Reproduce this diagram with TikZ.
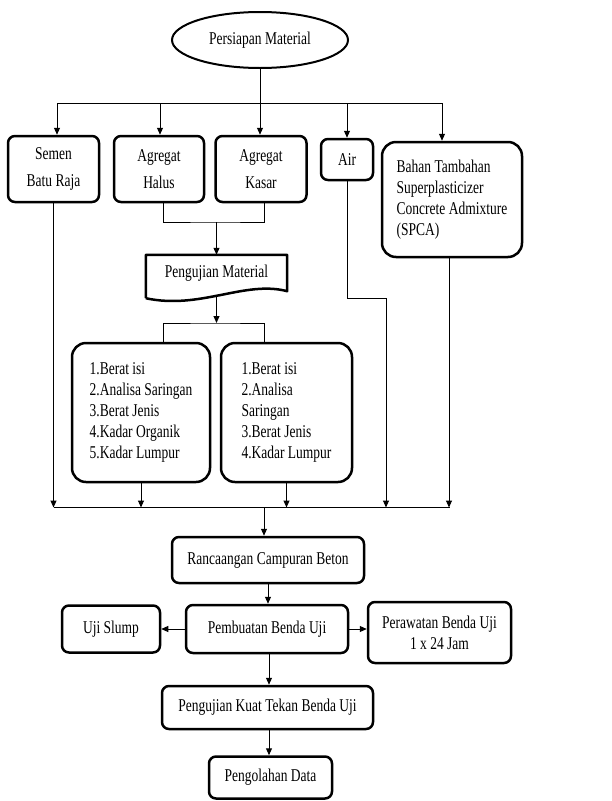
\documentclass[tikz,border=0pt]{standalone}
\usepackage{fontspec}
\setmainfont{Liberation Serif}[FakeStretch=0.75]
\usetikzlibrary{arrows.meta, shapes.geometric, calc}

\begin{document}
\begin{tikzpicture}[x=1pt, y=-1pt, >={Triangle[length=7pt,width=6pt]},
  font=\fontsize{18}{21}\selectfont,
  box/.style={draw, line width=2.5pt, rounded corners=7pt, align=center, inner sep=2pt},
  list/.style={box, rounded corners=14pt, align=left},
  line/.style={line width=1pt}]
  \useasboundingbox (0,0) rectangle (612,801);

  % Persiapan
  \node[ellipse, draw, line width=2pt, minimum width=176pt, minimum height=56pt] (persiapan) at (260,40) {Persiapan Material};

  % Material
  \node[box, minimum width=91pt, minimum height=66pt] (semen) at (53.5,169) {Semen\\[6pt]Batu Raja};
  \node[box, minimum width=90pt, minimum height=66pt] (halus) at (159,169) {Agregat\\[6pt]Halus};
  \node[box, minimum width=91pt, minimum height=66pt] (kasar) at (261,169) {Agregat\\[6pt]Kasar};
  \node[box, minimum width=52pt, minimum height=41pt] (air) at (347,159.5) {Air};
  \node[list, minimum width=140pt, minimum height=115pt] (bahan) at (452,199.5) {Bahan Tambahan\\Superplasticizer\\Concrete Admixture\\(SPCA)};

  % Pengujian material (dokumen)
  \node[minimum width=141pt, minimum height=36pt, inner sep=0pt] (uji) at (216.5,273) {Pengujian Material};
  \draw[line width=2.5pt, line join=round] ([yshift=-7pt]uji.south west) -- (uji.north west) -- (uji.north east) -- (uji.south east)
    .. controls (245,280) and (200,310) .. ([yshift=-7pt]uji.south west);

  \node[list, minimum width=138pt, minimum height=139pt] (tesA) at (141,412.5) {1.Berat isi\\2.Analisa Saringan\\3.Berat Jenis\\4.Kadar Organik\\5.Kadar Lumpur};
  \node[list, minimum width=131pt, minimum height=139pt] (tesB) at (286.5,412.5) {1.Berat isi\\2.Analisa\\Saringan\\3.Berat Jenis\\4.Kadar Lumpur};

  % Beton
  \node[box, minimum width=192pt, minimum height=46pt] (rancangan) at (268,560) {Rancaangan Campuran Beton};
  \node[box, minimum width=162pt, minimum height=48pt] (pembuatan) at (267,629) {Pembuatan Benda Uji};
  \node[box, minimum width=98pt, minimum height=47pt] (slump) at (111,629) {Uji Slump};
  \node[box, minimum width=143pt, minimum height=61pt] (perawatan) at (439.5,632.5) {Perawatan Benda Uji\\1 x 24 Jam};
  \node[box, minimum width=211pt, minimum height=43pt] (kuat) at (267.5,707.5) {Pengujian Kuat Tekan Benda Uji};
  \node[box, minimum width=123pt, minimum height=42pt] (olah) at (270.5,777.5) {Pengolahan Data};

  % Garis atas
  \coordinate (atas) at (260,103);
  \draw[line] (persiapan.south) -- (atas);
  \draw[line, ->] (atas) -- (atas |- kasar.north);
  \foreach \n/\dx in {semen/3.5, halus/1, air/0, bahan/-10}
    \draw[line, ->] (atas) -| ([xshift=\dx pt]\n.north);

  % Agregat ke pengujian
  \coordinate (gabung) at (216.5,222);
  \draw[line] ([xshift=4pt]halus.south) |- (gabung) -| ([xshift=3pt]kasar.south);
  \draw[line, ->] (gabung) -- (uji.north);
  \coordinate (cabang) at (216.5,323);
  \draw[line, ->] ([yshift=-6pt]uji.south) -- (cabang);
  \draw[line] ([xshift=22pt]tesA.north) |- (cabang) -| ([xshift=-22.5pt]tesB.north);

  % Garis bawah
  \coordinate (bawah) at (264,507.5);
  \coordinate (belok) at (386,298);
  \draw[line] (semen.south |- bawah) -- ([xshift=-2pt]bahan.south |- bawah);
  \foreach \n in {semen, tesA, tesB}
    \draw[line, ->] (\n.south) -- (\n.south |- bawah);
  \draw[line, ->] (air.south) |- (belok) -- (belok |- bawah);
  \draw[line, ->] ([xshift=-3pt]bahan.south) -- ([xshift=-3pt]bahan.south |- bawah);
  \draw[line, ->] (bawah) -- (bawah |- rancangan.north);

  % Proses beton
  \draw[line, ->] (rancangan.south) -- (rancangan.south |- pembuatan.north);
  \draw[line, ->] (pembuatan.west) -- (slump.east);
  \draw[line, ->] (pembuatan.east) -- (pembuatan.east -| perawatan.west);
  \draw[line, ->] ([xshift=2pt]pembuatan.south) -- ([xshift=2pt]pembuatan.south |- kuat.north);
  \draw[line, ->] ([xshift=1.5pt]kuat.south) -- ([xshift=1.5pt]kuat.south |- olah.north);
\end{tikzpicture}
\end{document}
